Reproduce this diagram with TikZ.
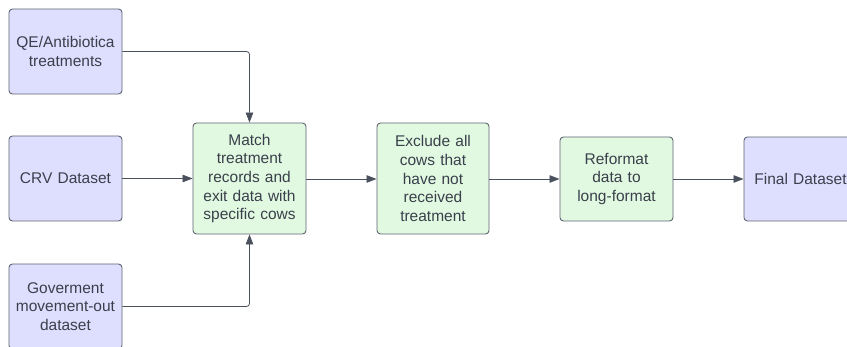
\documentclass[tikz,border=0pt]{standalone}
\usepackage{fontspec}
\setmainfont{Liberation Sans}
\usetikzlibrary{arrows.meta}
\definecolor{bluefill}{HTML}{DEDEFF}
\definecolor{greenfill}{HTML}{E1F8E1}
\definecolor{edgecol}{HTML}{5F6470}
\definecolor{txtcol}{HTML}{3A404B}
\definecolor{linecol}{HTML}{4A505C}
\begin{document}
\begin{tikzpicture}[x=1pt,y=-1pt,
  box/.style={draw=edgecol, line width=0.9pt, rounded corners=3.5pt, align=center,
    text=txtcol, inner sep=2pt, font=\fontsize{15.5}{18.7}\selectfont},
  bluebox/.style={box, fill=bluefill, minimum width=113pt, minimum height=85pt, text width=108pt},
  greenbox/.style={box, fill=greenfill, text width=100pt},
  conn/.style={draw=linecol, line width=0.8pt, rounded corners=3pt, -{Triangle[length=10pt,width=7.5pt]}}]
\useasboundingbox (0,0) rectangle (847,347);
\clip (0,0) rectangle (847,347);
\node[bluebox] (qe) at (65.5,51.5) {QE/Antibiotica\\treatments};
\node[bluebox] (crv) at (65.5,178.5) {CRV Dataset};
\node[bluebox] (gov) at (65.5,306.5) {Goverment\\movement-out\\dataset};
\node[greenbox, minimum width=113pt, minimum height=111pt] (match) at (249.5,178.5) {Match\\treatment\\records and\\exit data with\\specific cows};
\node[greenbox, minimum width=112pt, minimum height=111pt] (excl) at (433,178.5) {Exclude all\\cows that\\have not\\received\\treatment};
\node[greenbox, minimum width=113pt, minimum height=84pt] (ref) at (616.5,179) {Reformat\\data to\\long-format};
\node[bluebox, minimum height=84pt] (fin) at (800.5,179) {Final Dataset};
\draw[conn] (qe.east) -| (match.north);
\draw[conn] (gov.east) -| (match.south);
\draw[conn] (crv.east) -- (crv.east -| match.west);
\draw[conn] (match.east |- 0,179) -- (excl.west |- 0,179);
\draw[conn] (excl.east |- 0,179) -- (ref.west);
\draw[conn] (ref.east) -- (fin.west);
\end{tikzpicture}
\end{document}
